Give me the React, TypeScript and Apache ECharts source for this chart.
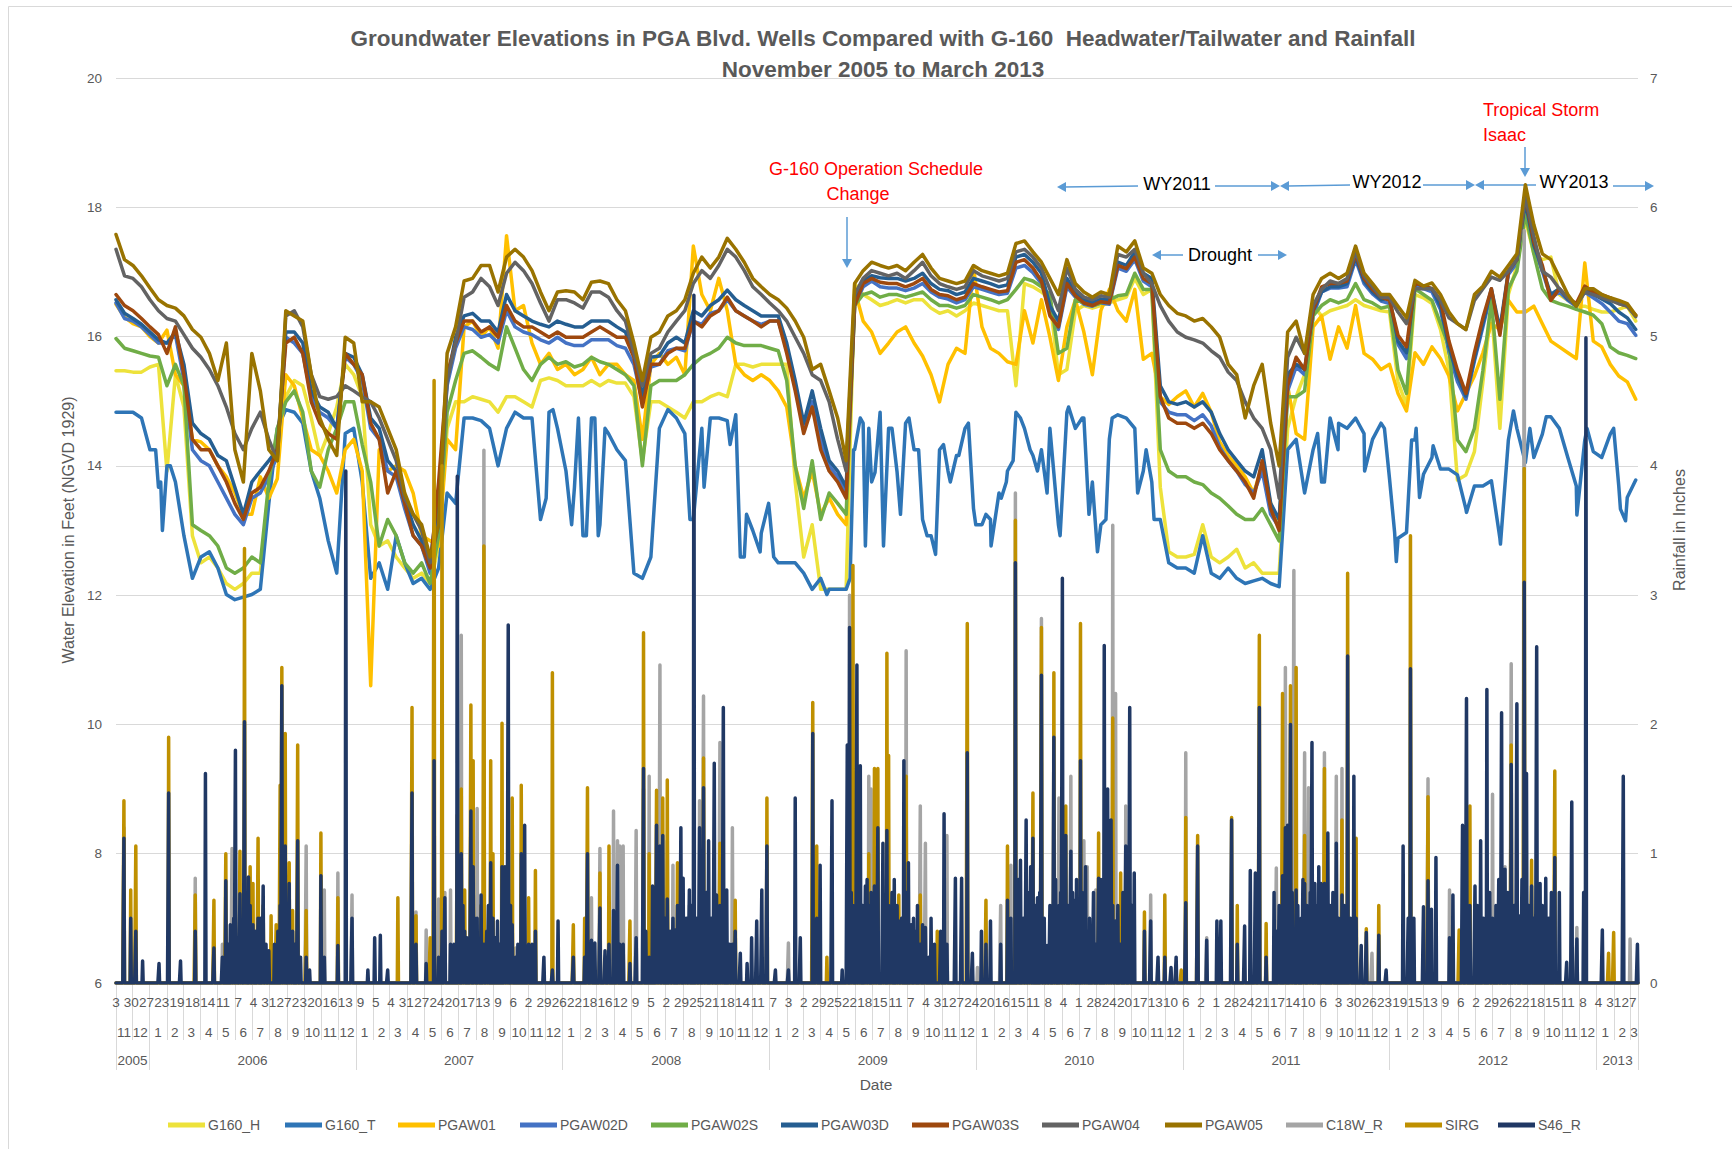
import React, { useEffect, useRef } from "react";
import * as echarts from "echarts";

// ---------- time base ----------
const START_UTC = Date.UTC(2005, 10, 3); // 2005-11-03
const N_DAYS = 2690; // through 2013-03-15
const STEP = 15; // water-level readings every 15 days (day index = i * STEP)
const FONT = "'Liberation Sans', Arial, sans-serif";

// ---------- water levels (ft NGVD 1929), read every 15 days ----------
const G160_H = [
  15.47, 15.47, 15.45, 15.45, 15.53, 15.57, 13.92, 15.41, 14.91, 12.92, 12.5, 12.59, 12.42, 12.18, 12.09, 12.18, 12.34, 12.34, 13.67, 14.41, 15.07, 15.32, 15.24, 14.74, 14.16, 14.5, 14.91, 15.57, 15.41, 15.07,
  13.09, 12.76, 12.84, 12.59, 12.42, 12.26, 12.34, 12.18, 12.76, 14.58, 14.99, 14.99, 15.07, 15.03, 14.99, 14.83, 15.07, 15.07, 14.99, 14.91, 15.32, 15.36, 15.32, 15.24, 15.24, 15.24, 15.32, 15.24, 15.32, 15.28,
  15.28, 15.07, 14.08, 14.99, 14.99, 14.91, 14.83, 14.74, 14.99, 14.99, 15.07, 15.12, 15.07, 15.57, 15.57, 15.53, 15.57, 15.57, 15.57, 15.57, 13.75, 12.59, 13.09, 12.09, 12.09, 12.09, 12.09, 16.82, 16.65, 16.57,
  16.48, 16.52, 16.57, 16.52, 16.57, 16.57, 16.44, 16.36, 16.4, 16.32, 16.4, 16.52, 16.48, 16.44, 16.4, 16.4, 15.24, 16.82, 16.77, 16.69, 16.57, 15.41, 15.49, 16.4, 16.48, 16.44, 16.48, 16.52, 16.57, 16.61,
  16.9, 16.65, 16.73, 13.67, 12.67, 12.59, 12.59, 12.63, 13.09, 12.59, 12.5, 12.59, 12.71, 12.42, 12.5, 12.34, 12.34, 12.34, 14.58, 15.07, 15.41, 16.48, 16.32, 16.4, 16.44, 16.48, 16.57, 16.48, 16.44, 16.4,
  16.38, 15.3, 14.94, 16.65, 16.6, 16.51, 16.11, 15.48, 13.78, 13.86, 14.22, 15.3, 16.47, 14.58, 16.65, 17.1, 17.81, 17.28, 17.19, 17.23, 16.65, 16.56, 16.47, 16.47, 16.42, 16.38, 16.38, 16.42, 16.47, 16.24,
];
const G160_T = [
  14.83, 14.83, 14.83, 14.74, 14.25, 13.67, 14.0, 13.75, 12.92, 12.26, 12.59, 12.67, 12.42, 12.01, 11.93, 11.97, 12.01, 12.09, 13.42, 14.58, 14.87, 14.83, 14.66, 13.92, 13.5, 12.84, 12.34, 14.5, 14.58, 13.75,
  12.26, 12.5, 12.09, 12.92, 12.5, 12.18, 12.26, 12.09, 12.42, 13.58, 13.42, 14.74, 14.74, 14.7, 14.58, 14.0, 14.58, 14.83, 14.74, 14.74, 13.17, 14.83, 14.58, 13.92, 13.67, 12.92, 14.74, 13.09, 14.5, 14.25,
  14.08, 12.34, 12.26, 12.59, 14.58, 14.87, 14.74, 14.5, 13.17, 14.58, 14.74, 14.74, 14.7, 14.79, 12.59, 13.0, 12.96, 13.25, 12.5, 12.5, 12.5, 12.34, 12.09, 12.26, 12.09, 12.09, 12.09, 14.25, 14.66, 13.75,
  14.83, 14.58, 13.9, 14.66, 14.25, 13.17, 12.92, 14.25, 13.92, 14.16, 14.58, 13.34, 13.09, 13.17, 13.58, 13.92, 14.83, 14.58, 14.16, 14.25, 14.58, 13.09, 14.83, 14.58, 14.74, 13.75, 13.09, 14.41, 14.79, 14.74,
  14.58, 13.92, 13.75, 13.17, 12.5, 12.42, 12.42, 12.34, 12.92, 12.34, 12.26, 12.42, 12.26, 12.18, 12.22, 12.26, 12.18, 12.13, 14.25, 14.41, 13.58, 14.25, 13.75, 14.74, 14.66, 14.58, 14.74, 14.5, 14.41, 14.66,
  13.8, 12.88, 12.97, 14.4, 13.87, 14.13, 13.95, 13.95, 13.86, 13.33, 13.69, 13.69, 13.77, 12.88, 14.4, 14.58, 14.05, 14.13, 14.49, 14.76, 14.58, 14.13, 13.69, 14.4, 14.22, 14.13, 14.49, 13.69, 13.51, 13.78,
];
// extra G160_T readings between the 15-day points: [day index, ft]
const G160_T_EXTRA = [
  [70, 14.25], [79, 13.75], [82, 13.0], [96, 14.0], [760, 13.5], [772, 14.87], [805, 13.09], [817, 14.74], [831, 12.92], [846, 14.74], [852, 12.92], [864, 14.58],
  [1014, 13.17], [1039, 13.67], [1055, 14.74], [1085, 14.33], [1103, 12.59], [1114, 13.25], [1138, 12.67], [1153, 13.42], [1162, 12.59], [1256, 12.01], [1297, 12.26],
  [1303, 14.25], [1315, 14.74], [1324, 12.76], [1330, 14.58], [1341, 13.9], [1356, 12.76], [1371, 14.58], [1386, 13.25], [1401, 14.74], [1418, 14.25], [1433, 12.92],
  [1448, 12.63], [1462, 14.33], [1474, 13.75], [1489, 14.16], [1506, 14.66], [1519, 13.09], [1537, 13.25], [1546, 12.76], [1564, 13.5], [1573, 13.75], [1585, 14.08],
  [1598, 14.74], [1615, 14.25], [1628, 13.92], [1645, 13.58], [1668, 12.92], [1683, 14.91], [1707, 14.74], [1719, 13.25], [1734, 12.67], [1749, 13.17], [1760, 14.74],
  [1805, 13.58], [1820, 14.25], [1834, 13.17], [2088, 14.25], [2123, 14.5], [2135, 13.75], [2159, 14.25], [2206, 13.92], [2241, 14.58], [2259, 12.97], [2262, 12.52],
  [2289, 14.4], [2297, 14.58], [2303, 13.51], [2327, 14.31], [2386, 13.28], [2446, 12.79], [2469, 14.85], [2498, 14.58], [2527, 14.76], [2581, 13.24], [2599, 14.58],
  [2646, 14.58], [2658, 13.33], [2667, 13.15],
];
const PGAW01 = [
  16.5, 16.3, 16.2, 16.15, 16.0, 15.9, 16.1, 15.41, 15.24, 14.41, 14.37, 14.25, 14.0, 13.83, 13.58, 13.25, 13.25, 13.83, 13.5, 13.8, 15.41, 15.24, 14.74, 14.25, 14.16, 13.92, 13.58, 14.25, 14.41, 13.92,
  10.6, 14.25, 13.92, 14.0, 13.92, 13.58, 12.92, 12.84, 12.76, 14.41, 14.25, 16.15, 16.24, 15.99, 16.15, 15.82, 17.56, 16.4, 16.48, 15.9, 15.57, 15.74, 15.49, 15.57, 15.41, 15.49, 15.68, 15.41, 15.57, 15.57,
  15.41, 15.32, 14.41, 15.57, 15.74, 15.57, 15.68, 15.41, 17.4, 16.65, 16.4, 16.9, 16.4, 15.57, 15.41, 15.32, 15.41, 15.32, 15.16, 14.91, 14.0, 13.5, 13.92, 13.25, 13.5, 13.25, 13.09, 16.73, 16.24, 16.07,
  15.74, 15.9, 16.07, 16.15, 15.9, 15.7, 15.41, 14.99, 15.57, 15.82, 15.74, 17.06, 16.15, 15.82, 15.74, 15.61, 15.57, 16.4, 15.9, 16.57, 15.99, 15.32, 16.15, 16.57, 16.07, 15.41, 16.4, 16.73, 16.4, 16.24,
  16.73, 15.65, 15.74, 15.07, 14.95, 15.07, 15.16, 14.91, 15.12, 14.83, 14.37, 14.16, 14.0, 13.83, 13.58, 14.0, 13.42, 13.09, 15.24, 14.5, 14.41, 16.15, 16.32, 15.65, 16.15, 15.82, 16.48, 15.74, 15.65, 15.49,
  15.57, 15.12, 14.85, 15.75, 15.57, 15.84, 15.66, 15.39, 14.85, 15.12, 15.39, 15.75, 16.2, 16.11, 16.56, 16.38, 16.38, 16.47, 16.2, 15.93, 15.84, 15.75, 15.66, 17.14, 15.93, 15.84, 15.57, 15.39, 15.3, 15.03,
];
const PGAW02D = [
  16.52, 16.28, 16.24, 16.15, 16.03, 15.9, 15.9, 16.03, 15.32, 14.25, 14.08, 14.0, 13.75, 13.5, 13.25, 13.09, 13.5, 13.58, 13.83, 14.16, 15.99, 15.9, 15.74, 15.07, 14.83, 14.74, 14.58, 15.68, 15.57, 15.32,
  14.58, 14.41, 13.92, 13.83, 13.34, 12.92, 12.76, 12.34, 13.5, 15.24, 15.82, 16.15, 16.11, 15.99, 16.03, 15.9, 16.4, 16.15, 16.07, 16.03, 15.95, 15.9, 15.99, 15.9, 15.86, 15.86, 15.95, 15.95, 15.95, 15.86,
  15.82, 15.57, 14.99, 15.53, 15.57, 15.78, 15.82, 15.78, 16.24, 16.19, 16.36, 16.4, 16.57, 16.4, 16.32, 16.24, 16.19, 16.24, 16.24, 15.82, 15.24, 14.58, 14.99, 14.41, 14.0, 13.83, 13.58, 16.48, 16.77, 16.86,
  16.77, 16.75, 16.75, 16.71, 16.75, 16.82, 16.69, 16.61, 16.58, 16.52, 16.57, 16.77, 16.73, 16.69, 16.65, 16.67, 17.06, 17.1, 16.99, 16.82, 16.4, 16.11, 16.77, 16.61, 16.5, 16.47, 16.52, 16.5, 17.06, 17.01,
  17.19, 16.86, 16.77, 14.99, 14.83, 14.79, 14.79, 14.7, 14.79, 14.62, 14.29, 14.08, 13.92, 13.71, 13.58, 13.92, 13.25, 13.05, 15.16, 15.53, 15.41, 16.32, 16.69, 16.75, 16.75, 16.77, 17.19, 16.82, 16.66, 16.55,
  16.51, 15.88, 15.66, 16.78, 16.74, 16.69, 16.42, 15.75, 15.3, 15.03, 15.62, 16.15, 16.69, 16.06, 16.96, 17.14, 17.99, 17.37, 17.01, 16.6, 16.69, 16.56, 16.47, 16.69, 16.6, 16.51, 16.38, 16.24, 16.2, 16.02,
];
const PGAW02S = [
  15.97, 15.82, 15.78, 15.74, 15.7, 15.68, 15.24, 15.57, 15.24, 13.09, 13.0, 12.92, 12.76, 12.42, 12.34, 12.42, 12.59, 12.5, 13.75, 14.58, 14.99, 15.16, 14.83, 13.92, 13.67, 14.25, 14.58, 14.99, 14.99, 14.33,
  13.75, 12.76, 13.17, 12.92, 12.5, 12.34, 12.5, 12.18, 12.92, 14.83, 15.32, 15.74, 15.78, 15.68, 15.57, 15.49, 16.15, 15.82, 15.49, 15.32, 15.57, 15.68, 15.57, 15.61, 15.53, 15.57, 15.68, 15.61, 15.57, 15.49,
  15.41, 15.24, 14.0, 15.24, 15.32, 15.32, 15.32, 15.41, 15.57, 15.68, 15.74, 15.82, 15.99, 15.9, 15.86, 15.86, 15.86, 15.82, 15.78, 15.32, 14.0, 13.34, 14.08, 13.17, 13.58, 13.42, 13.25, 16.48, 16.65, 16.69,
  16.61, 16.65, 16.65, 16.61, 16.65, 16.69, 16.57, 16.48, 16.48, 16.44, 16.48, 16.65, 16.61, 16.57, 16.52, 16.57, 16.73, 16.9, 16.86, 16.77, 16.65, 15.74, 15.82, 16.57, 16.52, 16.48, 16.52, 16.57, 16.63, 16.65,
  16.98, 16.73, 16.73, 14.25, 13.92, 13.83, 13.83, 13.75, 13.71, 13.58, 13.5, 13.38, 13.25, 13.17, 13.17, 13.34, 13.09, 12.84, 15.07, 15.07, 15.16, 16.32, 16.48, 16.57, 16.52, 16.57, 16.82, 16.57, 16.52, 16.44,
  16.47, 15.48, 15.12, 16.74, 16.65, 16.56, 16.2, 15.84, 14.4, 14.22, 14.58, 15.48, 16.56, 15.03, 16.74, 17.01, 17.9, 17.28, 16.74, 16.56, 16.51, 16.47, 16.42, 16.38, 16.33, 16.2, 15.84, 15.75, 15.71, 15.66,
];
const PGAW03D = [
  16.57, 16.36, 16.28, 16.19, 16.07, 15.95, 15.9, 16.07, 15.57, 14.66, 14.5, 14.41, 14.16, 14.08, 13.67, 13.25, 13.75, 13.92, 14.08, 14.25, 16.07, 16.07, 15.9, 15.16, 14.91, 14.83, 14.58, 15.74, 15.68, 15.41,
  14.74, 14.58, 14.08, 13.92, 13.5, 13.09, 12.84, 12.5, 13.58, 15.32, 15.99, 16.32, 16.36, 16.24, 16.24, 16.07, 16.65, 16.4, 16.32, 16.24, 16.19, 16.15, 16.24, 16.19, 16.15, 16.15, 16.24, 16.24, 16.24, 16.15,
  16.07, 15.74, 15.07, 15.68, 15.7, 15.9, 15.99, 15.9, 16.4, 16.32, 16.48, 16.57, 16.72, 16.57, 16.48, 16.4, 16.32, 16.32, 16.32, 15.9, 15.32, 14.66, 15.16, 14.58, 14.08, 13.92, 13.67, 16.57, 16.86, 16.94,
  16.91, 16.9, 16.9, 16.86, 16.9, 16.98, 16.82, 16.73, 16.71, 16.65, 16.69, 16.9, 16.86, 16.82, 16.77, 16.8, 17.23, 17.27, 17.15, 16.98, 16.48, 16.24, 16.9, 16.69, 16.57, 16.52, 16.58, 16.57, 17.15, 17.1,
  17.31, 16.98, 16.9, 15.24, 14.99, 14.95, 14.99, 14.91, 14.99, 14.83, 14.5, 14.25, 14.08, 13.92, 13.83, 14.25, 13.42, 13.17, 15.41, 15.57, 15.49, 16.4, 16.69, 16.77, 16.77, 16.82, 17.23, 16.86, 16.69, 16.57,
  16.6, 15.93, 15.75, 16.83, 16.78, 16.74, 16.47, 15.84, 15.39, 15.08, 15.66, 16.2, 16.74, 16.11, 17.01, 17.19, 18.08, 17.41, 17.05, 16.65, 16.74, 16.58, 16.49, 16.76, 16.66, 16.58, 16.51, 16.38, 16.29, 16.11,
];
const PGAW03S = [
  16.65, 16.48, 16.4, 16.28, 16.15, 16.03, 15.74, 16.15, 15.41, 14.41, 14.25, 14.25, 14.0, 13.75, 13.42, 13.17, 13.58, 13.67, 13.92, 14.25, 15.9, 15.99, 15.74, 14.99, 14.66, 14.5, 14.41, 15.74, 15.57, 15.41,
  14.66, 14.41, 13.58, 13.92, 13.42, 12.92, 12.76, 12.42, 13.75, 15.41, 15.9, 16.24, 16.24, 16.07, 16.15, 15.99, 16.48, 16.24, 16.15, 16.15, 16.07, 15.99, 16.07, 15.99, 15.99, 15.99, 16.07, 16.15, 16.07, 15.99,
  15.99, 15.68, 14.91, 15.57, 15.57, 15.74, 15.82, 15.82, 16.24, 16.15, 16.32, 16.4, 16.61, 16.4, 16.32, 16.24, 16.15, 16.24, 16.24, 15.74, 15.16, 14.5, 14.91, 14.25, 13.92, 13.75, 13.5, 16.48, 16.82, 16.9,
  16.84, 16.82, 16.82, 16.77, 16.82, 16.9, 16.73, 16.65, 16.63, 16.57, 16.61, 16.82, 16.77, 16.73, 16.69, 16.71, 17.15, 17.19, 17.06, 16.86, 16.32, 16.15, 16.82, 16.63, 16.52, 16.48, 16.54, 16.52, 17.1, 17.05,
  17.23, 16.9, 16.82, 15.07, 14.74, 14.66, 14.66, 14.58, 14.66, 14.5, 14.25, 14.08, 13.92, 13.75, 13.5, 14.08, 13.34, 13.0, 15.24, 15.68, 15.49, 16.4, 16.77, 16.82, 16.82, 16.86, 17.27, 16.9, 16.73, 16.61,
  16.56, 16.02, 15.84, 16.83, 16.78, 16.74, 16.56, 15.93, 15.48, 15.12, 15.75, 16.29, 16.74, 16.02, 17.01, 17.19, 18.17, 17.46, 17.1, 16.56, 16.74, 16.6, 16.51, 16.78, 16.69, 16.65, 16.6, 16.51, 16.47, 16.33,
];
const PGAW04 = [
  17.35, 16.94, 16.9, 16.77, 16.57, 16.4, 16.28, 16.24, 16.03, 15.82, 15.68, 15.49, 15.24, 14.91, 14.5, 14.25, 14.58, 14.83, 14.41, 14.08, 16.32, 16.4, 16.15, 15.41, 15.07, 15.03, 15.07, 15.24, 15.16, 15.07,
  14.99, 14.74, 14.41, 14.08, 13.5, 13.25, 13.0, 12.5, 13.09, 15.32, 15.9, 16.61, 16.69, 16.9, 16.77, 16.48, 16.98, 17.15, 17.02, 16.82, 16.52, 16.24, 16.57, 16.57, 16.52, 16.44, 16.69, 16.69, 16.61, 16.4,
  16.24, 15.74, 15.24, 15.74, 15.82, 16.07, 16.24, 16.4, 16.82, 17.02, 16.9, 17.1, 17.35, 17.23, 17.02, 16.77, 16.65, 16.52, 16.4, 16.24, 15.99, 15.74, 15.41, 15.32, 14.99, 14.41, 13.92, 16.65, 16.9, 17.02,
  16.98, 16.94, 16.98, 16.9, 17.02, 17.15, 16.94, 16.82, 16.77, 16.73, 16.77, 17.02, 16.94, 16.9, 16.86, 16.9, 17.31, 17.35, 17.23, 17.06, 16.73, 16.4, 17.06, 16.73, 16.61, 16.57, 16.63, 16.61, 17.27, 17.23,
  17.35, 16.98, 16.82, 16.48, 16.24, 16.07, 15.99, 15.95, 15.9, 15.78, 15.68, 15.45, 15.32, 14.99, 14.74, 14.58, 14.25, 13.5, 15.68, 15.99, 15.74, 16.48, 16.73, 16.86, 16.82, 16.9, 17.31, 16.94, 16.77, 16.61,
  16.6, 16.38, 16.2, 16.74, 16.74, 16.74, 16.56, 16.29, 16.2, 16.11, 16.56, 16.74, 16.92, 16.87, 17.01, 17.19, 18.17, 17.55, 17.01, 16.92, 16.74, 16.6, 16.47, 16.69, 16.65, 16.6, 16.56, 16.51, 16.47, 16.31,
];
const PGAW05 = [
  17.58, 17.19, 17.1, 16.94, 16.75, 16.57, 16.48, 16.44, 16.32, 16.11, 15.99, 15.74, 15.32, 15.9, 14.25, 13.75, 15.74, 15.16, 14.25, 14.08, 16.4, 16.32, 16.24, 15.41, 14.74, 14.41, 14.16, 15.99, 15.9, 14.99,
  14.99, 14.91, 14.58, 14.25, 13.58, 13.25, 13.09, 12.59, 13.09, 15.74, 16.15, 16.86, 16.9, 17.1, 17.1, 16.69, 17.23, 17.35, 17.23, 17.02, 16.69, 16.4, 16.69, 16.71, 16.69, 16.57, 16.84, 16.86, 16.82, 16.57,
  16.4, 15.9, 15.32, 15.99, 16.07, 16.32, 16.4, 16.57, 16.98, 17.23, 17.06, 17.23, 17.52, 17.35, 17.15, 16.9, 16.77, 16.65, 16.57, 16.44, 16.24, 15.99, 15.49, 15.57, 15.16, 14.74, 14.08, 16.82, 17.02, 17.15,
  17.1, 17.06, 17.1, 17.02, 17.15, 17.27, 17.06, 16.9, 16.86, 16.82, 16.86, 17.1, 17.02, 16.98, 16.94, 16.98, 17.44, 17.48, 17.31, 17.15, 16.9, 16.65, 17.19, 16.82, 16.69, 16.61, 16.69, 16.65, 17.4, 17.31,
  17.48, 17.06, 16.98, 16.65, 16.48, 16.36, 16.32, 16.24, 16.28, 16.15, 15.99, 15.57, 15.41, 14.74, 15.24, 15.57, 14.66, 14.0, 16.07, 16.24, 15.74, 16.65, 16.9, 16.98, 16.9, 16.98, 17.4, 16.98, 16.82, 16.65,
  16.65, 16.47, 16.29, 16.87, 16.78, 16.83, 16.65, 16.38, 16.2, 16.11, 16.65, 16.78, 17.01, 16.92, 17.1, 17.28, 18.35, 17.73, 17.28, 17.19, 16.92, 16.65, 16.47, 16.74, 16.74, 16.65, 16.6, 16.56, 16.51, 16.33,
];

// ---------- daily rainfall (inches): [day index, value]; other days 0 ----------
const C18W_R = [
  [14, 1.2], [140, 0.81], [188, 0.3], [205, 1.04], [336, 1.06], [368, 0.72], [392, 0.85], [417, 0.68],
  [523, 0.6], [530, 0.55], [548, 0.41], [570, 0.65], [581, 0.7], [591, 0.72], [610, 2.69], [638, 1.35], [650, 4.12], [706, 0.27], [840, 0.66], [855, 1.04], [879, 1.33], [886, 1.1], [896, 1.06],
  [890, 1.06], [919, 1.18], [932, 1.5], [942, 1.6], [961, 2.46], [974, 1.1], [984, 0.91], [1013, 0.6], [1031, 1.41], [1038, 2.22], [1067, 1.86], [1089, 1.2], [1188, 0.31], [1296, 3.0], [1330, 1.6], [1334, 1.5],
  [1396, 2.57], [1421, 1.37], [1430, 1.08], [1468, 1.14], [1522, 0.12], [1563, 0.6], [1581, 0.91], [1589, 3.79], [1635, 2.82], [1666, 1.43], [1687, 1.6], [1710, 1.1], [1716, 0.9], [1731, 0.72], [1761, 3.54], [1766, 2.24], [1784, 1.37],
  [1828, 0.68], [1890, 1.78], [1927, 0.35], [2050, 0.89], [2066, 2.44], [2081, 3.19], [2100, 1.78], [2107, 1.51], [2135, 1.78], [2156, 1.6], [2166, 1.66], [2219, 0.23],
  [2318, 1.58], [2356, 0.72], [2432, 1.46], [2454, 0.9], [2465, 2.47], [2488, 5.82], [2581, 0.43], [2675, 0.34],
];
const SIRG = [
  [14, 1.41], [26, 0.72], [35, 1.06], [93, 1.9], [140, 0.68], [173, 0.64], [194, 1.0], [219, 1.02], [227, 3.36], [237, 0.9], [242, 0.77], [251, 1.12], [260, 0.6], [274, 0.52], [283, 0.45], [290, 1.53], [293, 2.44], [299, 1.93], [306, 0.93], [312, 0.56], [321, 1.84], [336, 0.56], [362, 1.16], [392, 0.66],
  [498, 0.66], [523, 2.13], [530, 0.52], [555, 0.35], [562, 4.66], [576, 4.0], [603, 1.3], [610, 1.5], [616, 0.72], [627, 2.15], [631, 1.72], [645, 0.6], [650, 3.38], [662, 1.72], [666, 1.0], [682, 2.01], [700, 1.43], [716, 1.53], [729, 0.66], [741, 0.87], [771, 2.4], [808, 0.45], [828, 0.5], [833, 1.51], [855, 0.85], [871, 1.06],
  [908, 0.48], [932, 2.71], [942, 1.0], [955, 1.49], [966, 1.43], [974, 1.57], [992, 0.93], [1038, 1.74], [1067, 1.08], [1094, 0.64], [1150, 1.43], [1231, 2.17], [1238, 1.06], [1256, 0.2], [1302, 3.23], [1330, 1.0], [1340, 1.66], [1346, 1.66],
  [1362, 2.55], [1365, 1.76], [1383, 0.68], [1396, 1.6], [1421, 0.68], [1451, 0.4], [1504, 2.78], [1537, 0.64], [1575, 1.06], [1589, 3.58], [1620, 1.47], [1635, 2.75], [1657, 2.4], [1678, 1.37], [1704, 2.78], [1724, 0.37], [1736, 1.16], [1761, 2.05], [1775, 0.85],
  [1817, 0.55], [1853, 0.68], [1882, 0.1], [1890, 1.28], [1911, 1.14], [1971, 1.28], [1981, 0.6], [2020, 2.69], [2032, 0.46], [2061, 2.24], [2075, 2.3], [2085, 2.44], [2100, 1.14], [2118, 0.6], [2135, 1.66], [2166, 1.26], [2176, 3.17], [2191, 1.12], [2209, 0.42], [2231, 0.6],
  [2287, 3.46], [2318, 1.44], [2373, 0.41], [2392, 1.37], [2465, 1.84], [2488, 3.98], [2501, 0.95], [2542, 1.64], [2637, 0.23], [2646, 0.39],
];
const S46_R = [
  [14, 1.12], [26, 0.5], [35, 0.4], [47, 0.17], [76, 0.15], [93, 1.47], [114, 0.17], [140, 0.4], [158, 1.62], [173, 0.27], [188, 0.2], [194, 0.79], [198, 0.3], [202, 0.45], [205, 0.3], [208, 0.5], [211, 1.8], [214, 0.35], [219, 0.69], [222, 0.45], [227, 2.02], [230, 0.5], [234, 0.82], [237, 0.6], [242, 0.45], [246, 0.4], [251, 0.5], [255, 0.5], [260, 0.75], [265, 0.3], [270, 0.25], [280, 0.3], [286, 0.4], [290, 0.6], [293, 2.3], [296, 0.8], [299, 1.06], [303, 0.4], [306, 0.77], [309, 0.35], [312, 0.4], [316, 0.3], [321, 1.1], [326, 0.2], [336, 0.2], [342, 0.1], [362, 0.83], [368, 0.2], [392, 0.29], [406, 3.96], [417, 0.5],
  [445, 0.1], [457, 0.35], [467, 0.37], [480, 0.1], [523, 1.47], [530, 0.3], [548, 0.15], [562, 1.72], [570, 0.2], [576, 0.4], [581, 0.66], [591, 0.3], [597, 0.3], [603, 3.92], [606, 0.5], [610, 1.0], [613, 0.6], [616, 0.4], [620, 0.35], [627, 1.33], [631, 0.9], [634, 0.5], [638, 0.5], [641, 0.3], [645, 0.68], [650, 0.3], [655, 0.4], [658, 0.6], [662, 0.93], [666, 0.5], [670, 0.35], [674, 0.48], [678, 0.3], [682, 0.9], [687, 0.9], [690, 0.5], [693, 2.77], [697, 0.6], [700, 0.45], [706, 0.2], [710, 0.3], [716, 1.0], [722, 1.22], [726, 0.25], [729, 0.3], [735, 0.3], [741, 0.4], [756, 0.2], [771, 0.1], [781, 0.48], [808, 0.2], [828, 0.2], [833, 1.0], [840, 0.33], [846, 0.31], [855, 0.58], [864, 0.25], [871, 0.3], [879, 0.56], [886, 0.91], [896, 0.3],
  [890, 0.3], [908, 0.15], [919, 0.35], [932, 1.66], [936, 0.4], [942, 0.2], [948, 0.75], [952, 0.5], [955, 1.22], [958, 0.6], [961, 1.06], [966, 1.14], [970, 0.5], [974, 0.65], [979, 0.4], [984, 0.5], [988, 0.41], [992, 0.6], [995, 0.5], [998, 1.2], [1002, 0.81], [1005, 0.5], [1008, 0.5], [1013, 0.72], [1017, 0.6], [1021, 5.32], [1026, 0.5], [1031, 1.2], [1035, 0.6], [1038, 1.51], [1043, 0.7], [1047, 1.1], [1052, 0.5], [1057, 1.7], [1061, 0.68], [1064, 0.4], [1067, 0.6], [1070, 0.5], [1073, 2.13], [1079, 0.72], [1084, 0.3], [1089, 0.3], [1094, 0.4], [1103, 0.23], [1115, 0.15], [1123, 0.35], [1132, 0.48], [1141, 0.72], [1150, 1.06], [1165, 0.1], [1188, 0.1], [1200, 1.43], [1209, 0.35], [1231, 1.93], [1238, 0.5], [1244, 0.91], [1265, 1.41], [1283, 0.1], [1292, 1.84], [1296, 2.75], [1299, 0.7], [1302, 0.6], [1306, 0.5], [1309, 2.46], [1312, 0.9], [1315, 1.68], [1319, 0.6], [1324, 0.75], [1327, 0.8], [1330, 0.6], [1334, 0.7], [1337, 0.6], [1340, 0.75], [1343, 0.5], [1346, 1.2],
  [1355, 1.08], [1358, 0.6], [1362, 1.18], [1365, 0.6], [1368, 0.5], [1371, 0.7], [1375, 0.8], [1380, 0.6], [1383, 0.48], [1388, 0.5], [1392, 1.72], [1396, 0.7], [1398, 0.6], [1400, 0.93], [1405, 0.45], [1409, 0.5], [1412, 0.4], [1416, 0.6], [1421, 0.3], [1425, 0.45], [1430, 0.43], [1436, 0.2], [1440, 0.5], [1446, 0.3], [1457, 0.4], [1463, 1.31], [1468, 0.3], [1483, 0.81], [1494, 0.81], [1504, 1.78], [1513, 0.23], [1529, 0.4], [1537, 0.3], [1545, 0.48], [1563, 0.3], [1575, 0.64], [1581, 0.5], [1589, 3.25], [1594, 0.8], [1598, 0.95], [1603, 0.5], [1608, 1.26], [1613, 0.7], [1616, 0.9], [1620, 1.12], [1624, 0.6], [1628, 0.66], [1632, 0.7], [1635, 2.38], [1640, 0.5], [1645, 0.29], [1650, 0.6], [1657, 1.9], [1660, 0.8], [1666, 0.6], [1669, 0.7], [1672, 3.13], [1675, 0.9], [1678, 1.14], [1682, 0.6], [1687, 1.02], [1690, 0.7], [1693, 0.64], [1697, 0.8], [1700, 0.6], [1704, 1.72], [1707, 0.7], [1710, 0.5], [1713, 0.9], [1716, 0.4], [1720, 0.5], [1727, 0.7], [1731, 0.3], [1736, 0.81], [1740, 0.8], [1746, 2.61], [1749, 1.0], [1752, 1.5], [1755, 0.8], [1758, 1.26], [1761, 0.6], [1766, 0.48], [1770, 0.6], [1775, 0.3], [1779, 0.7], [1784, 1.06], [1788, 0.5], [1791, 2.13], [1795, 0.6], [1799, 0.85],
  [1817, 0.4], [1828, 0.48], [1841, 0.2], [1853, 0.2], [1864, 0.12], [1873, 0.2], [1890, 0.62], [1911, 1.06], [1927, 0.33], [1945, 0.48], [1952, 0.48], [1971, 1.26], [1981, 0.3], [1994, 0.44], [2004, 0.87], [2013, 0.85], [2020, 2.13], [2032, 0.2], [2046, 0.7], [2050, 0.4], [2055, 0.6], [2061, 0.83], [2063, 0.8], [2066, 1.2], [2070, 1.22], [2072, 0.9], [2075, 2.0], [2078, 0.7], [2081, 0.4], [2085, 0.72], [2088, 0.6], [2094, 0.5], [2097, 0.8], [2100, 0.77], [2104, 0.6], [2107, 0.48], [2110, 0.7], [2113, 1.86], [2118, 0.77], [2121, 0.6], [2125, 0.9], [2129, 0.77], [2132, 0.5], [2135, 0.77], [2141, 1.16], [2145, 0.6], [2150, 0.7], [2156, 1.08], [2160, 0.5], [2166, 0.68], [2170, 0.6], [2176, 2.53], [2181, 0.5], [2187, 1.6], [2191, 0.5], [2200, 0.29], [2209, 0.39], [2231, 0.37], [2244, 0.1],
  [2274, 1.06], [2283, 0.5], [2287, 2.43], [2293, 0.5], [2310, 0.59], [2318, 0.79], [2324, 0.57], [2332, 0.97], [2356, 0.35], [2362, 0.68], [2379, 1.22], [2386, 2.2], [2392, 0.6], [2401, 0.75], [2405, 0.6], [2411, 1.1], [2416, 0.5], [2422, 2.27], [2427, 0.7], [2432, 0.5], [2438, 0.6], [2443, 0.8], [2448, 2.09], [2454, 0.88], [2459, 0.7], [2465, 1.69], [2470, 0.6], [2475, 2.16], [2481, 0.52], [2484, 0.8], [2488, 3.1], [2492, 1.62], [2496, 0.6], [2501, 0.75], [2505, 0.5], [2510, 2.6], [2516, 0.77], [2520, 0.6], [2526, 0.81], [2531, 0.5], [2536, 0.7], [2542, 0.97], [2550, 0.7], [2563, 0.16], [2572, 1.4], [2581, 0.34], [2593, 0.7], [2597, 4.99], [2626, 0.41], [2663, 1.6], [2688, 0.3],
];

const SERIES_NAMES = ["G160_H", "G160_T", "PGAW01", "PGAW02D", "PGAW02S", "PGAW03D", "PGAW03S", "PGAW04", "PGAW05", "C18W_R", "SIRG", "S46_R"];
const COLORS = ["#EDE23B", "#2E75B6", "#FFC000", "#4472C4", "#70AD47", "#255E91", "#9E480E", "#636363", "#997300", "#A5A5A5", "#BF9000", "#203864"];
const LEGEND_X = [168, 285, 398, 520, 651, 781, 912, 1042, 1165, 1286, 1405, 1498];

// ---------- category helpers ----------
function parts(i: number) {
  const d = new Date(START_UTC + i * 86400000);
  return { y: d.getUTCFullYear(), m: d.getUTCMonth() + 1, d: d.getUTCDate() };
}
const DAY_PARTS = Array.from({ length: N_DAYS }, (_, i) => parts(i));
const CATEGORIES = DAY_PARTS.map(
  (p) => `${p.y}-${String(p.m).padStart(2, "0")}-${String(p.d).padStart(2, "0")}`
);
const MONTH_LABEL = new Map<number, string>();
const YEAR_LABEL = new Map<number, string>();
const MONTH_TICK = new Set<number>([0, N_DAYS - 1]);
const YEAR_TICK = new Set<number>([0, N_DAYS - 1]);
(function buildGroups() {
  let s = 0;
  for (let i = 1; i <= N_DAYS; i++) {
    if (i === N_DAYS || DAY_PARTS[i].m !== DAY_PARTS[s].m) {
      MONTH_LABEL.set(Math.round((s + i - 1) / 2), String(DAY_PARTS[s].m));
      if (i < N_DAYS) MONTH_TICK.add(i);
      s = i;
    }
  }
  s = 0;
  for (let i = 1; i <= N_DAYS; i++) {
    if (i === N_DAYS || DAY_PARTS[i].y !== DAY_PARTS[s].y) {
      YEAR_LABEL.set(Math.round((s + i - 1) / 2), String(DAY_PARTS[s].y));
      if (i < N_DAYS) YEAR_TICK.add(i);
      s = i;
    }
  }
})();

const gridData = (vals: number[]) => vals.map((v, i) => [i * STEP, v]);
const rainData = (events: number[][]) => {
  const arr = new Array(N_DAYS).fill(0);
  for (const [d, v] of events) arr[d] = v;
  return arr;
};

function buildOption() {
  const g160t = gridData(G160_T).concat(G160_T_EXTRA).sort((a, b) => a[0] - b[0]);
  const water: Record<string, number[][]> = {
    G160_H: gridData(G160_H),
    G160_T: g160t,
    PGAW01: gridData(PGAW01),
    PGAW02D: gridData(PGAW02D),
    PGAW02S: gridData(PGAW02S),
    PGAW03D: gridData(PGAW03D),
    PGAW03S: gridData(PGAW03S),
    PGAW04: gridData(PGAW04),
    PGAW05: gridData(PGAW05),
  };
  const rain: Record<string, number[]> = {
    C18W_R: rainData(C18W_R),
    SIRG: rainData(SIRG),
    S46_R: rainData(S46_R),
  };
  const series: any[] = SERIES_NAMES.map((name, k) => {
    const isRain = k >= 9;
    return {
      name,
      type: "line",
      xAxisIndex: 0,
      yAxisIndex: isRain ? 1 : 0,
      data: isRain ? rain[name] : water[name],
      showSymbol: false,
      symbol: "none",
      color: COLORS[k],
      lineStyle: { width: isRain ? 3.5 : 3.5, color: COLORS[k], join: "round", cap: "round" },
      itemStyle: { color: COLORS[k] },
      emphasis: { disabled: true },
      z: 2 + k * 0.01,
    };
  });

  const labelStyle = { fontSize: 13.5, color: "#595959", fontFamily: FONT };
  const blue = "#5B9BD5";
  const arrowHead = (tx: number, ty: number, dir: string) => {
    const L = 9, W = 5;
    let pts: number[][];
    if (dir === "down") pts = [[tx - W, ty - L], [tx + W, ty - L], [tx, ty]];
    else if (dir === "left") pts = [[tx + L, ty - W], [tx + L, ty + W], [tx, ty]];
    else pts = [[tx - L, ty - W], [tx - L, ty + W], [tx, ty]];
    return { type: "polygon", shape: { points: pts }, style: { fill: blue }, silent: true };
  };
  const seg = (x1: number, y1: number, x2: number, y2: number) => ({
    type: "line",
    shape: { x1, y1, x2, y2 },
    style: { stroke: blue, lineWidth: 1.5 },
    silent: true,
  });
  const txt = (text: string, x: number, y: number, size: number, fill: string, align = "center", weight = "normal", rotation = 0) => ({
    type: "text",
    x,
    y,
    rotation,
    silent: true,
    style: {
      text,
      fill,
      fontSize: size,
      fontWeight: weight,
      fontFamily: FONT,
      align,
      textAlign: align,
      verticalAlign: "middle",
      textVerticalAlign: "middle",
    },
  });

  const graphic: any[] = [
    { type: "rect", shape: { x: 8.5, y: 6.5, width: 1800, height: 1300 }, style: { fill: "none", stroke: "#D9D9D9", lineWidth: 1 }, silent: true },
    txt("Groundwater Elevations in PGA Blvd. Wells Compared with G-160  Headwater/Tailwater and Rainfall", 883, 38, 22.5, "#595959", "center", "bold"),
    txt("November 2005 to March 2013", 883, 69, 22.5, "#595959", "center", "bold"),
    txt("Water Elevation in Feet (NGVD 1929)", 68, 530, 16, "#595959", "center", "normal", Math.PI / 2),
    txt("Rainfall in Inches", 1679, 530, 16, "#595959", "center", "normal", Math.PI / 2),
    txt("Date", 876, 1084, 15.5, "#595959"),
    // G-160 annotation
    txt("G-160 Operation Schedule", 876, 169, 18, "#FF0000"),
    txt("Change", 858, 194, 18, "#FF0000"),
    seg(847, 217, 847, 262),
    arrowHead(847, 268, "down"),
    // Tropical Storm Isaac
    txt("Tropical Storm", 1483, 110, 18, "#FF0000", "left"),
    txt("Isaac", 1483, 135, 18, "#FF0000", "left"),
    seg(1525, 147, 1525, 170),
    arrowHead(1525, 177, "down"),
    // Water years
    seg(1064, 187, 1138, 186),
    arrowHead(1057, 187, "left"),
    txt("WY2011", 1177, 184, 18, "#000000"),
    seg(1215, 186, 1272, 186),
    arrowHead(1280, 186, "right"),
    seg(1288, 186, 1350, 185),
    arrowHead(1280, 186, "left"),
    txt("WY2012", 1387, 182, 18, "#000000"),
    seg(1423, 185, 1467, 185),
    arrowHead(1475, 185, "right"),
    seg(1483, 185, 1536, 185),
    arrowHead(1475, 185, "left"),
    txt("WY2013", 1574, 182, 18, "#000000"),
    seg(1613, 186, 1646, 186),
    arrowHead(1654, 186, "right"),
    // Drought
    seg(1160, 255, 1183, 255),
    arrowHead(1152, 255, "left"),
    txt("Drought", 1220, 255, 18, "#000000"),
    seg(1258, 255, 1279, 255),
    arrowHead(1287, 255, "right"),
  ];

  const legend = SERIES_NAMES.map((name, k) => ({
    data: [name],
    left: LEGEND_X[k],
    top: 1118,
    icon: "rect",
    itemWidth: 37,
    itemHeight: 5,
    padding: 0,
    selectedMode: false,
    textStyle: { fontSize: 14, color: "#595959", fontFamily: FONT, padding: [0, 0, 0, -2] },
  }));

  const baseCat = { type: "category", data: CATEGORIES, boundaryGap: false, position: "bottom", gridIndex: 0 };

  return {
    animation: false,
    backgroundColor: "#FFFFFF",
    textStyle: { fontFamily: FONT },
    grid: { left: 116, right: 94, top: 78, bottom: 166, containLabel: false },
    legend,
    graphic,
    xAxis: [
      {
        ...baseCat,
        axisLine: { show: true, lineStyle: { color: "#D9D9D9", width: 1 } },
        axisTick: { show: true, interval: (i: number) => MONTH_TICK.has(i), length: 57, lineStyle: { color: "#D9D9D9" } },
        axisLabel: { ...labelStyle, interval: (i: number) => i % 27 === 0, formatter: (v: string) => String(parseInt(v.slice(8), 10)), margin: 12 },
        splitLine: { show: false },
      },
      {
        ...baseCat,
        offset: 30,
        axisLine: { show: false },
        axisTick: { show: false },
        axisLabel: { ...labelStyle, interval: (i: number) => MONTH_LABEL.has(i), formatter: (_v: string, i: number) => MONTH_LABEL.get(i) || "", margin: 12 },
        splitLine: { show: false },
      },
      {
        ...baseCat,
        offset: 58,
        axisLine: { show: false },
        axisTick: { show: false },
        axisLabel: { ...labelStyle, interval: (i: number) => YEAR_LABEL.has(i), formatter: (_v: string, i: number) => YEAR_LABEL.get(i) || "", margin: 12 },
        splitLine: { show: false },
      },
      {
        ...baseCat,
        axisLine: { show: false },
        axisLabel: { show: false },
        axisTick: { show: true, interval: (i: number) => YEAR_TICK.has(i), length: 87, lineStyle: { color: "#D9D9D9" } },
        splitLine: { show: false },
      },
    ],
    yAxis: [
      {
        type: "value",
        min: 6,
        max: 20,
        interval: 2,
        position: "left",
        axisLine: { show: false },
        axisTick: { show: false },
        axisLabel: { ...labelStyle, margin: 14 },
        splitLine: { show: true, lineStyle: { color: "#D9D9D9", width: 1 } },
      },
      {
        type: "value",
        min: 0,
        max: 7,
        interval: 1,
        position: "right",
        axisLine: { show: false },
        axisTick: { show: false },
        axisLabel: { ...labelStyle, margin: 12 },
        splitLine: { show: false },
      },
    ],
    series,
  };
}

export default function App() {
  const ref = useRef<HTMLDivElement>(null);
  useEffect(() => {
    document.body.style.margin = "0";
    const chart = echarts.init(ref.current as HTMLDivElement, undefined, { renderer: "svg" });
    chart.setOption(buildOption() as any);
    return () => chart.dispose();
  }, []);
  return (
    <div
      ref={ref}
      style={{ position: "absolute", left: 0, top: 0, width: 1732, height: 1149, background: "#FFFFFF" }}
    />
  );
}
